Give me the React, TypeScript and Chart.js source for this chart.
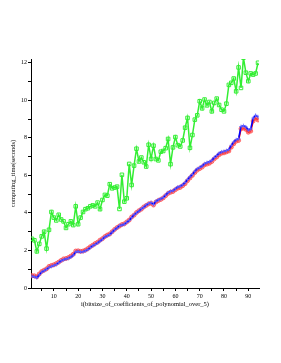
import React, { useEffect, useRef } from 'react';
import { Chart, registerables } from 'chart.js';
Chart.register(...registerables);

const iValues: number[] = Array.from({ length: 94 }, (_, k) => k + 1);

const greenTimes = [
  2.62, 2.54, 1.95, 2.35, 2.75, 3.0, 2.1, 3.1, 4.05, 3.75,
  3.6, 3.9, 3.65, 3.55, 3.2, 3.4, 3.55, 3.35, 4.35, 3.4,
  3.75, 4.05, 4.2, 4.25, 4.35, 4.4, 4.35, 4.55, 4.2, 4.69,
  4.96, 4.92, 5.53, 5.31, 5.35, 5.4, 4.21, 6.03, 4.6, 4.78,
  6.61, 5.49, 6.52, 7.42, 6.74, 6.95, 6.7, 6.47, 7.63, 6.88,
  7.58, 6.87, 6.8, 7.26, 7.3, 7.45, 7.94, 6.6, 7.49, 8.04,
  7.61, 7.54, 7.86, 8.54, 9.06, 7.47, 8.15, 8.97, 9.2, 9.95,
  9.57, 10.04, 9.73, 9.91, 9.41, 9.86, 10.09, 9.75, 9.5, 9.41,
  9.82, 10.82, 10.93, 11.16, 10.48, 11.75, 10.66, 12.27, 11.47, 11.02,
  11.43, 11.37, 11.43, 12.0,
];

const redTimes = [
  0.66, 0.65, 0.6, 0.75, 0.88, 0.95, 1.02, 1.15, 1.2, 1.24,
  1.3, 1.38, 1.47, 1.55, 1.57, 1.62, 1.7, 1.8, 1.97, 1.98,
  1.95, 1.97, 2.02, 2.1, 2.2, 2.28, 2.37, 2.44, 2.55, 2.63,
  2.74, 2.82, 2.88, 3.0, 3.12, 3.22, 3.3, 3.38, 3.42, 3.52,
  3.62, 3.78, 3.88, 4.02, 4.12, 4.2, 4.32, 4.4, 4.48, 4.52,
  4.42, 4.58, 4.66, 4.72, 4.8, 4.92, 5.04, 5.1, 5.14, 5.24,
  5.32, 5.36, 5.45, 5.56, 5.72, 5.86, 6.0, 6.15, 6.28, 6.36,
  6.44, 6.56, 6.6, 6.65, 6.74, 6.88, 6.98, 7.1, 7.18, 7.2,
  7.25, 7.3, 7.5, 7.68, 7.82, 7.86, 8.48, 8.52, 8.45, 8.3,
  8.36, 8.9, 9.05, 8.95,
];

const blueTimes = [
  0.62, 0.6, 0.55, 0.7, 0.85, 0.92, 1.0, 1.1, 1.15, 1.2,
  1.25, 1.35, 1.45, 1.5, 1.55, 1.58, 1.65, 1.75, 1.92, 1.95,
  1.92, 1.93, 1.98, 2.05, 2.15, 2.25, 2.32, 2.4, 2.5, 2.6,
  2.72, 2.78, 2.85, 2.98, 3.1, 3.2, 3.32, 3.35, 3.4, 3.5,
  3.6, 3.75, 3.9, 4.0, 4.1, 4.22, 4.3, 4.42, 4.5, 4.55,
  4.45, 4.62, 4.7, 4.75, 4.82, 4.95, 5.08, 5.15, 5.18, 5.28,
  5.38, 5.42, 5.5, 5.62, 5.78, 5.92, 6.05, 6.22, 6.35, 6.42,
  6.5, 6.62, 6.68, 6.72, 6.8, 6.95, 7.05, 7.18, 7.25, 7.28,
  7.32, 7.38, 7.6, 7.78, 7.9, 7.95, 8.6, 8.65, 8.58, 8.42,
  8.48, 9.05, 9.2, 9.12,
];

const xTickLabels = [10, 20, 30, 40, 50, 60, 70, 80, 90];
const yTickLabels = [0, 2, 4, 6, 8, 10, 12];

const xTitle = 'i(bitsize_of_coefficients_of_polynomial_over_5)';
const yTitle = 'computing_time(seconds)';

const FONT = "'Liberation Serif', 'DejaVu Serif', serif";

export default function App() {
  const ref = useRef<HTMLCanvasElement>(null);
  useEffect(() => {
    if (!ref.current) return;
    const pts = (arr: number[]) => arr.map((v, k) => ({ x: iValues[k], y: v }));
    const chart = new Chart(ref.current, {
      type: 'line',
      data: {
        datasets: [
          {
            label: 'blue',
            data: pts(blueTimes),
            borderColor: '#0000ff',
            borderWidth: 1.6,
            pointStyle: 'cross',
            pointRadius: 2,
            pointBorderColor: 'rgba(110,110,255,0.75)',
            pointBorderWidth: 1,
            tension: 0,
            order: 0,
          },
          {
            label: 'red',
            data: pts(redTimes),
            borderColor: '#ff0000',
            borderWidth: 1.6,
            pointStyle: 'circle',
            pointRadius: 2,
            pointBackgroundColor: 'rgba(255,90,90,0.55)',
            pointBorderColor: 'rgba(255,60,60,0.7)',
            pointBorderWidth: 1,
            tension: 0,
            order: 1,
          },
          {
            label: 'green',
            data: pts(greenTimes),
            borderColor: '#33ee33',
            borderWidth: 1.5,
            pointStyle: 'rect',
            pointRadius: 2.5,
            pointBackgroundColor: 'rgba(255,255,255,0)',
            pointBorderColor: '#33ee33',
            pointBorderWidth: 1,
            tension: 0,
            order: 2,
          },
        ],
      },
      options: {
        animation: false,
        responsive: false,
        maintainAspectRatio: false,
        layout: { padding: { left: 9, top: 59, right: 22, bottom: 55 } },
        plugins: { legend: { display: false }, tooltip: { enabled: false } },
        scales: {
          x: {
            type: 'linear',
            min: 0.6,
            max: 94.4,
            afterFit: (s: any) => { s.height = 20; },
            border: { display: true, color: '#000', width: 1 },
            grid: { display: true, drawOnChartArea: false, drawTicks: true, tickLength: 3, color: '#000' },
            ticks: {
              stepSize: 5,
              includeBounds: false,
              autoSkip: false,
              maxRotation: 0,
              padding: 2,
              color: '#000',
              font: { family: FONT, size: 6 },
              callback: (v: any) => (xTickLabels.includes(Number(v)) ? String(v) : ''),
            },
            title: { display: true, text: xTitle, color: '#000', padding: 0, font: { family: FONT, size: 6.5 } },
          },
          y: {
            type: 'linear',
            min: 0,
            max: 12.2,
            afterFit: (s: any) => { s.width = 22; },
            border: { display: true, color: '#000', width: 1 },
            grid: { display: true, drawOnChartArea: false, drawTicks: true, tickLength: 3, color: '#000' },
            ticks: {
              stepSize: 1,
              includeBounds: false,
              autoSkip: false,
              padding: 1,
              color: '#000',
              font: { family: FONT, size: 6 },
              callback: (v: any) => (yTickLabels.includes(Number(v)) ? String(v) : ''),
            },
            title: { display: true, text: yTitle, color: '#000', padding: 0, font: { family: FONT, size: 6.5 } },
          },
        },
      },
    } as any);
    return () => chart.destroy();
  }, []);
  return (
    <div style={{ position: 'fixed', left: 0, top: 0, width: 281, height: 363, background: '#fff' }}>
      <canvas ref={ref} width={281} height={363} style={{ width: 281, height: 363, display: 'block' }} />
    </div>
  );
}
